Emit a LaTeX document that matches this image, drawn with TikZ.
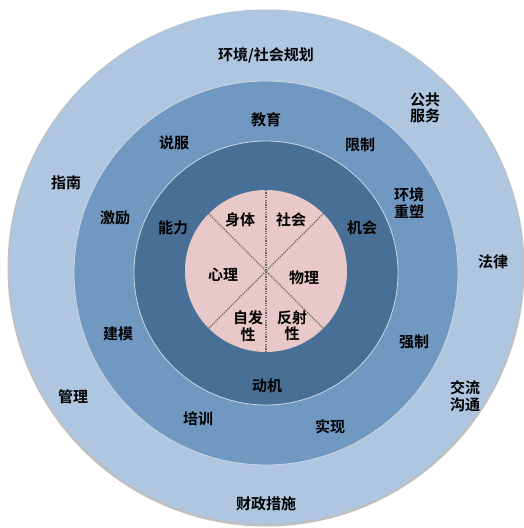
\documentclass[tikz,border=0pt]{standalone}
\usepackage{fontspec}
\newfontfamily\cjk{Noto Sans CJK SC Bold}
\usetikzlibrary{calc}
\definecolor{ringA}{RGB}{174,198,224}
\definecolor{ringB}{RGB}{112,152,193}
\definecolor{ringC}{RGB}{72,112,150}
\definecolor{coreP}{RGB}{232,200,200}
\definecolor{edgeL}{RGB}{205,215,228}
\tikzset{
  lbl/.style={font=\cjk\fontsize{15}{16.5}\selectfont, text=black, align=center, inner sep=1pt},
  divider/.style={draw=black!60, line width=1.4pt, dash pattern=on 1.2pt off 1.2pt},
}
\begin{document}
\begin{tikzpicture}[x=1pt,y=-1pt]
\useasboundingbox (0,0) rectangle (524,528);
\begin{scope}
\clip (0,0) rectangle (524,528);
\fill[black!25] (266,268) circle (258.5);
\fill[ringA] (266,267) circle (257);
\end{scope}
\fill[ringB, draw=edgeL, line width=0.8pt] (266,273) circle (192);
\fill[ringC, draw=edgeL, line width=0.8pt] (266,273) circle (132);
\fill[coreP] (266,271) circle (81);
\coordinate (ct) at (266,190);
\coordinate (cb) at (266,352);
\coordinate (ul) at (208.7,213.7);
\coordinate (lr) at (323.3,328.3);
\coordinate (ur) at (323.3,213.7);
\coordinate (ll) at (208.7,328.3);
\draw[divider] (ct) -- (cb);
\draw[divider] (ul) -- (lr);
\draw[divider] (ur) -- (ll);
% outer ring
\node[lbl] (o1) at (266,55) {环境/社会规划};
\node[lbl] (o2) at (425,108) {公共\\服务};
\node[lbl] (o3) at (66,183) {指南};
\node[lbl] (o4) at (493,262) {法律};
\node[lbl] (o5) at (73,397) {管理};
\node[lbl] (o6) at (465,396) {交流\\沟通};
\node[lbl] (o7) at (266,504) {财政措施};
% middle ring
\node[lbl] (m1) at (266,120) {教育};
\node[lbl] (m2) at (174,143) {说服};
\node[lbl] (m3) at (360,145) {限制};
\node[lbl] (m4) at (409,203) {环境\\重塑};
\node[lbl] (m5) at (115,218) {激励};
\node[lbl] (m6) at (118,334) {建模};
\node[lbl] (m7) at (414,342) {强制};
\node[lbl] (m8) at (198,419) {培训};
\node[lbl] (m9) at (330,427) {实现};
% dark ring
\node[lbl] (d1) at (173,228) {能力};
\node[lbl] (d2) at (362,228) {机会};
\node[lbl] (d3) at (267,386) {动机};
% core
\node[lbl] (p1) at (240,220) {身体};
\node[lbl] (p2) at (291,220) {社会};
\node[lbl] (p3) at (223,275) {心理};
\node[lbl] (p4) at (304,278) {物理};
\node[lbl] (p5) at (248,326) {自发\\性};
\node[lbl] (p6) at (292,326) {反射\\性};
\end{tikzpicture}
\end{document}
